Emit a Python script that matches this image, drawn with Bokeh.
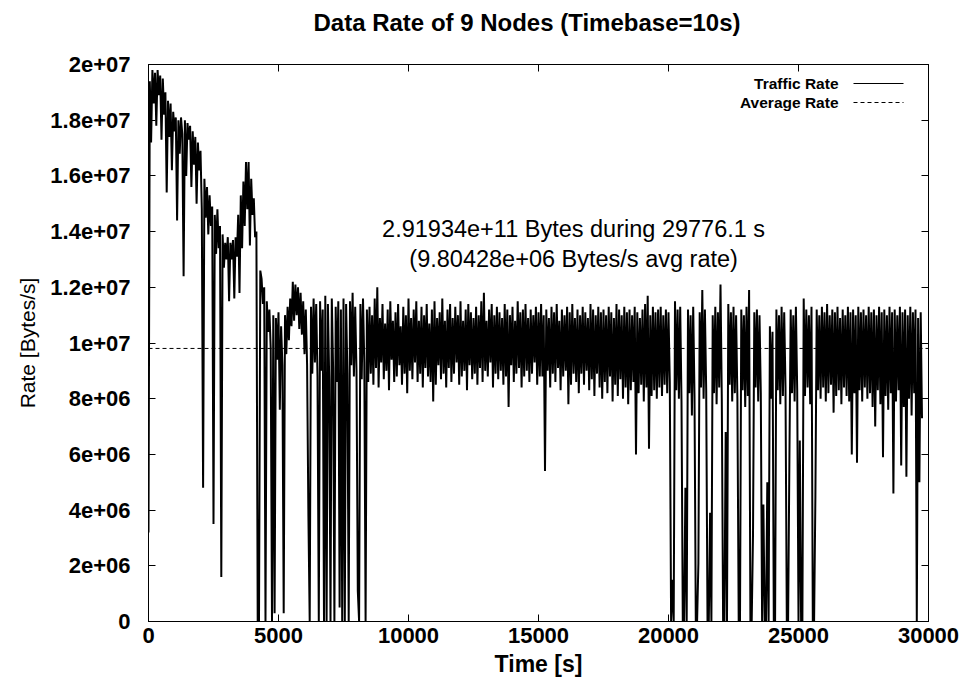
import numpy as np
from bokeh.plotting import figure
from bokeh.models import (Range1d, FixedTicker, LinearAxis, Span, Label, Arrow,
                          CustomJSTickFormatter)
from bokeh.embed import file_html
from bokeh.resources import INLINE

# ---------------- data (rate in 1e6 Bytes/s, one value every STEP seconds) -------------
STEP = 50

seg_a_start = 0
seg_a = [3.2, 19.4, 17.2, 19.8, 18.6, 19.7, 17.8, 19.8, 18.9, 19.6,
         17.3, 19.5, 18.2, 19.0, 15.4, 18.7, 17.4, 18.6, 16.2, 18.3,
         17.6, 18.1, 14.4, 18.0, 16.8, 18.1, 17.5, 12.4, 18.0, 16.0,
         17.9, 17.3, 17.8, 15.6, 17.6, 16.4, 17.4, 15.0, 17.2, 16.2,
         16.9, 14.8, 4.8, 15.9, 14.5, 15.6, 13.9, 15.3, 14.2, 14.9,
         3.5, 14.6, 13.2, 14.8, 13.4, 14.2, 1.6, 13.9, 12.7, 13.6,
         13.0, 13.8, 11.5, 13.6, 13.0, 13.7, 11.6, 13.8, 13.1, 14.6,
         11.8, 15.3, 13.4, 15.8, 14.2, 16.5, 14.8, 16.5, 13.5, 15.9]

seg_b_start = 4000
seg_b = [14.6, 15.2, 13.8, 14.0, 0.0, 0.0, 12.6, 12.3, 11.4, 12.0,
         0.0, 11.5, 10.4, 11.2, 9.8, 0.0, 11.0, 0.3, 10.9, 9.4,
         11.1, 7.6, 10.6, 9.2, 0.3, 11.0, 9.6, 11.3, 10.1, 11.6,
         10.6, 12.2, 10.8, 12.1, 11.0, 12.0, 10.5, 11.8, 10.3, 11.5,
         9.6, 11.2, 9.2, 3.8, 0.0, 11.3, 8.9, 11.6, 9.3, 11.4,
         8.8, 0.0, 11.5, 9.0, 11.2, 0.0, 11.7, 0.0, 11.4, 8.7,
         0.0, 11.6, 9.1, 0.0, 11.3, 8.6, 11.5, 0.5, 11.2, 0.0,
         11.6, 0.0, 11.4, 8.9, 0.0, 11.5, 9.2, 11.8, 8.8, 11.3,
         9.0, 1.1, 0.0, 11.4, 8.7, 11.6, 9.3, 0.0, 11.2, 8.6]

seg_c_start = 8500
seg_c = [11.3, 8.9, 11.0, 8.5, 11.6, 9.1, 12.0, 8.4, 10.9, 9.3, 11.4, 8.7, 10.7, 9.0, 11.2, 8.3, 11.5, 9.4, 10.8, 8.6,
         11.1, 8.8, 11.4, 9.2, 10.6, 8.5, 11.3, 8.9, 11.0, 8.2, 11.6, 9.0, 10.9, 8.7, 11.2, 9.3, 11.5, 8.6, 10.8, 8.9,
         11.3, 8.4, 11.0, 9.1, 11.4, 8.8, 10.7, 8.6, 11.2, 7.9, 11.5, 8.5, 10.9, 9.2, 11.1, 8.7, 11.6, 8.9, 10.8, 8.4,
         11.2, 9.1, 11.4, 8.6, 10.9, 8.9, 11.3, 9.3, 11.0, 8.5, 11.5, 8.8, 10.8, 9.0, 11.2, 8.3, 11.4, 9.2, 11.1, 8.7,
         10.9, 8.9, 11.3, 8.5, 11.0, 9.1, 11.5, 8.6, 11.8, 9.0, 10.8, 8.8, 11.2, 9.3, 11.4, 8.4, 11.0, 8.9, 11.3, 8.7,
         11.1, 9.0, 10.9, 8.5, 11.4, 8.8, 11.2, 7.7, 11.0, 9.2, 11.3, 8.6, 10.8, 8.9, 11.5, 9.1, 11.1, 8.4, 11.2, 8.8,
         11.4, 9.0, 10.9, 8.6, 11.2, 8.9, 11.0, 9.3, 11.3, 8.5, 11.1, 8.8, 11.4, 8.8, 11.0, 5.4, 11.2, 9.0, 10.9, 8.4,
         11.3, 8.9, 11.1, 8.6, 11.4, 9.1, 10.8, 8.3, 11.2, 8.8, 11.0, 9.0, 11.3, 7.8, 11.1, 8.5, 11.4, 8.9, 10.9, 8.6,
         11.2, 8.2, 11.0, 8.9, 11.3, 8.5, 11.1, 9.0, 10.9, 8.3, 11.4, 8.7, 11.2, 8.1, 11.0, 8.9, 11.3, 8.4, 11.1, 8.0,
         11.2, 8.6, 11.0, 8.2, 11.3, 8.8, 11.1, 7.9, 10.9, 8.5, 11.4, 8.1, 11.2, 8.7, 11.0, 8.0, 11.3, 8.4, 11.1, 7.8,
         11.2, 8.3, 11.0, 8.6, 11.3, 6.0, 11.1, 8.2, 10.9, 8.5, 11.2, 7.9, 11.4, 8.4, 11.7, 6.2, 11.0, 8.1, 11.3, 8.3,
         11.1, 8.0, 11.2]

seg_d_start = 19650
seg_d = [8.4, 11.3, 8.1, 11.0, 8.5, 11.2, 8.2, 11.1, 8.6, 0.0,
         1.5, 0.0, 11.5, 8.3, 11.2, 8.0, 11.3, 7.9, 0.0, 0.0,
         4.8, 0.0, 11.2, 8.2, 11.0, 7.4, 11.3, 8.1, 0.0, 0.0,
         2.1, 11.1, 8.4, 11.9, 8.0, 11.2, 8.3, 0.0, 0.0, 3.9,
         0.0, 11.0, 8.2, 11.3, 7.8, 11.1, 8.4, 12.1, 8.0, 0.0,
         0.0, 6.8, 0.0, 11.4, 8.5, 11.1, 7.9, 11.3, 8.2, 11.0,
         8.0, 0.0, 0.0, 11.2, 8.3, 11.0, 7.7, 11.3, 8.1, 11.9,
         0.0, 0.0, 3.1, 11.1, 8.4, 11.2, 7.9, 11.0, 8.2, 0.0,
         4.2, 0.0, 0.0, 5.0, 0.0, 10.6, 8.0, 10.4, 0.0, 0.0,
         11.2, 8.3, 11.0, 7.8, 11.3, 8.1, 11.1, 8.4, 0.0, 0.0,
         5.8, 11.2, 8.2, 11.0, 7.9, 11.3, 8.3, 0.0, 6.5, 0.0,
         0.0, 11.6, 8.1, 11.2, 8.4, 11.0, 7.8, 11.3, 0.0, 0.0,
         4.5]

seg_e_start = 25700
seg_e = [11.2, 8.3, 11.0, 8.0, 11.3, 8.4, 11.1, 7.9, 11.4, 8.2,
         11.0, 8.5, 11.2, 7.5, 11.1, 8.1, 11.3, 8.3, 10.9, 7.8,
         11.2, 8.4, 11.0, 8.1, 11.3, 7.9, 11.1, 6.0, 11.2, 8.2,
         11.0, 5.7, 11.3, 8.3, 11.1, 7.9, 11.2, 8.4, 11.0, 8.0,
         11.3, 8.2, 11.1, 7.7, 11.2, 7.0, 11.0, 8.3, 11.3, 7.8,
         11.1, 5.9, 11.2, 8.1, 11.0, 7.6, 11.3, 8.2, 11.1, 4.6,
         11.2, 7.9, 11.0, 8.3, 11.3, 5.6, 11.1, 7.7, 11.2, 5.2,
         11.0, 8.0, 11.3, 7.4, 11.1, 8.2, 11.2, 0.0, 10.9, 5.0,
         11.1, 7.3]

avg_rate = 9.80428e6
x_ticks = [0, 5000, 10000, 15000, 20000, 25000, 30000]
x_tick_labels = ["0", "5000", "10000", "15000", "20000", "25000", "30000"]
y_ticks = [0, 2000000, 4000000, 6000000, 8000000, 10000000,
           12000000, 14000000, 16000000, 18000000, 20000000]
y_tick_labels = ["0", "2e+06", "4e+06", "6e+06", "8e+06", "1e+07",
                 "1.2e+07", "1.4e+07", "1.6e+07", "1.8e+07", "2e+07"]
title_text = "Data Rate of 9 Nodes (Timebase=10s)"
note_line1 = "2.91934e+11 Bytes during 29776.1 s"
note_line2 = "(9.80428e+06 Bytes/s avg rate)"
legend_labels = ["Traffic Rate", "Average Rate"]

# ---------------- build series ----------------
segments = [(seg_a_start, seg_a), (seg_b_start, seg_b), (seg_c_start, seg_c),
            (seg_d_start, seg_d), (seg_e_start, seg_e)]
t = np.concatenate([start + STEP * np.arange(len(vals)) for start, vals in segments])
rate = np.concatenate([np.array(vals) for _, vals in segments]) * 1e6

FONT = "Liberation Sans"

p = figure(width=963, height=680, output_backend="svg", toolbar_location=None,
           x_range=Range1d(x_ticks[0], x_ticks[-1]), y_range=Range1d(y_ticks[0], y_ticks[-1]),
           min_border_left=148, min_border_right=35, min_border_top=64, min_border_bottom=59,
           background_fill_color="white", border_fill_color="white")

p.title.text = title_text
p.title.align = "left"
p.title.offset = 165
p.title.standoff = 10
p.title.text_font = FONT
p.title.text_font_size = "24px"
p.title.text_font_style = "bold"
p.title.text_color = "black"

p.grid.visible = False
p.outline_line_color = "black"
p.outline_line_width = 1
p.outline_line_alpha = 1

xa = p.xaxis[0]
ya = p.yaxis[0]
xa.ticker = FixedTicker(ticks=x_ticks)
xa.major_label_overrides = {k: s for k, s in zip(x_ticks, x_tick_labels)}
ya.ticker = FixedTicker(ticks=y_ticks)
ya.major_label_overrides = {k: s for k, s in zip(y_ticks, y_tick_labels)}
for ax in (xa, ya):
    ax.major_tick_in = 7
    ax.major_tick_out = 0
    ax.minor_tick_in = 0
    ax.minor_tick_out = 0
    ax.axis_line_color = "black"
    ax.major_tick_line_color = "black"
    ax.major_label_text_font = FONT
    ax.major_label_text_font_style = "bold"
    ax.major_label_text_color = "black"
    ax.major_label_text_font_size = "22px"
    ax.axis_label_text_font = FONT
    ax.axis_label_text_color = "black"
xa.major_label_standoff = 6
xa.axis_label = "Time [s]"
xa.axis_label_text_font_size = "23px"
xa.axis_label_text_font_style = "bold"
xa.axis_label_standoff = 5
ya.major_label_standoff = 18
ya.axis_label = "Rate [Bytes/s]"
ya.axis_label_text_font_size = "21px"
ya.axis_label_text_font_style = "normal"
ya.axis_label_standoff = 8

# mirrored ticks on top and right (no labels); the top one keeps the title clear of the frame
blank = CustomJSTickFormatter(code="return ''")
top_ax = LinearAxis(ticker=FixedTicker(ticks=x_ticks), formatter=blank,
                    major_tick_in=7, major_tick_out=0, minor_tick_in=0, minor_tick_out=0,
                    major_label_standoff=0, axis_line_color="black",
                    axis_label=" ", axis_label_standoff=2,
                    axis_label_text_font=FONT, axis_label_text_font_size="17px")
right_ax = LinearAxis(ticker=FixedTicker(ticks=y_ticks), formatter=blank,
                      major_tick_in=7, major_tick_out=0, minor_tick_in=0, minor_tick_out=0,
                      major_label_standoff=0, axis_line_color="black")
p.add_layout(top_ax, "above")
p.add_layout(right_ax, "right")

# data
p.line(t, rate, line_color="black", line_width=2)
p.add_layout(Span(location=avg_rate, dimension="width", line_color="black",
                  line_dash="4 3", line_width=1))

# annotation text
p.add_layout(Label(x=16350, y=14.08e6, text=note_line1, text_align="center",
                   text_baseline="middle", text_font=FONT, text_font_size="23.5px",
                   text_color="black"))
p.add_layout(Label(x=16350, y=13.03e6, text=note_line2, text_align="center",
                   text_baseline="middle", text_font=FONT, text_font_size="23.5px",
                   text_color="black"))

# gnuplot-style key: text right-justified, sample to its right
key_rows = [538, 519]
key_dash = [None, "4 3"]
for lbl, yy, dash in zip(legend_labels, key_rows, key_dash):
    p.add_layout(Label(x=690, y=yy, x_units="screen", y_units="screen", text=lbl,
                       text_align="right", text_baseline="middle", text_font=FONT,
                       text_font_size="15.5px", text_font_style="bold", text_color="black"))
    arr = Arrow(x_start=705, y_start=yy, x_end=755, y_end=yy, start_units="screen",
                end_units="screen", end=None, line_color="black", line_width=1)
    if dash:
        arr.line_dash = dash
    p.add_layout(arr)

open("out.html", "w").write(file_html(p, INLINE))
